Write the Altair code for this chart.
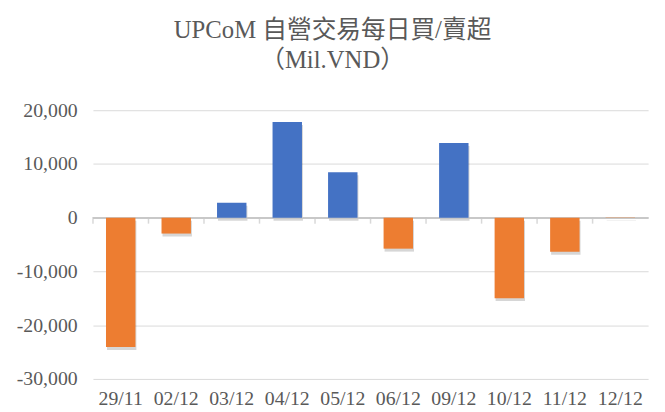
import altair as alt
import pandas as pd

dates = ["29/11", "02/12", "03/12", "04/12", "05/12", "06/12", "09/12", "10/12", "11/12", "12/12"]
values = [-24050, -2950, 2760, 17800, 8470, -5760, 13880, -14970, -6320, -60]

df = pd.DataFrame({"date": dates, "value": values})

SERIF = "Liberation Serif, Noto Sans CJK TC"
TXT = "#595959"
GRID = "#D9D9D9"

xscale = alt.Scale(paddingInner=0.47, paddingOuter=0.235)
yscale = alt.Scale(domain=[-30000, 20000], nice=False)

xaxis = alt.Axis(labelAngle=0, labelFont=SERIF, labelFontSize=20, labelColor=TXT,
                 domain=False, ticks=False, labelPadding=10, orient="bottom")
yaxis = alt.Axis(values=[-30000, -20000, -10000, 0, 10000, 20000],
                 labelExpr="replace(format(datum.value, ','), '\u2212', '-')",
                 labelFont=SERIF, labelFontSize=20, labelColor=TXT, domain=False,
                 ticks=False, gridColor=GRID, gridWidth=1, labelPadding=16, labelAlign="right")

X = alt.X("date:N", sort=dates, scale=xscale, title=None, axis=xaxis)
Y = alt.Y("value:Q", scale=yscale, title=None, axis=yaxis)

base = alt.Chart(df)

shadow = base.mark_bar(color="#000000", opacity=0.16, yOffset=3, xOffset=1).encode(x=X, y=Y)

bars = base.mark_bar().encode(
    x=X, y=Y,
    color=alt.condition(alt.datum.value > 0, alt.value("#4472C4"), alt.value("#ED7D31")),
)

ticks = base.mark_tick(color="#C8C8C8", thickness=1.5, size=6, yOffset=3, orient="vertical").encode(
    x=alt.X("date:N", sort=dates, scale=xscale, title=None, axis=xaxis, bandPosition=0),
    y=alt.Y("zero:Q", scale=yscale, title=None, axis=yaxis),
    xOffset=alt.value(-13.2),
).transform_calculate(zero="0")

zline = base.mark_rule(color="#C8C8C8", strokeWidth=1.5).encode(
    y=alt.Y("zero:Q", scale=yscale, title=None, axis=yaxis),
).transform_calculate(zero="0")

chart = alt.layer(shadow, zline, ticks, bars).properties(
    width=562,
    height=272,
    padding={"left": 86, "top": 101, "right": 9, "bottom": 31},
    autosize=alt.AutoSizeParams(type="none"),
    title=alt.TitleParams(
        text=["UPCoM 自營交易每日買/賣超", "（Mil.VND）"],
        font=SERIF, fontSize=25, fontWeight="normal", color=TXT,
        lineHeight=30, offset=28, anchor="middle", frame="bounds",
    ),
).configure_view(stroke=None)

chart.save("out.html", embed_options={"renderer": "svg", "actions": False})
